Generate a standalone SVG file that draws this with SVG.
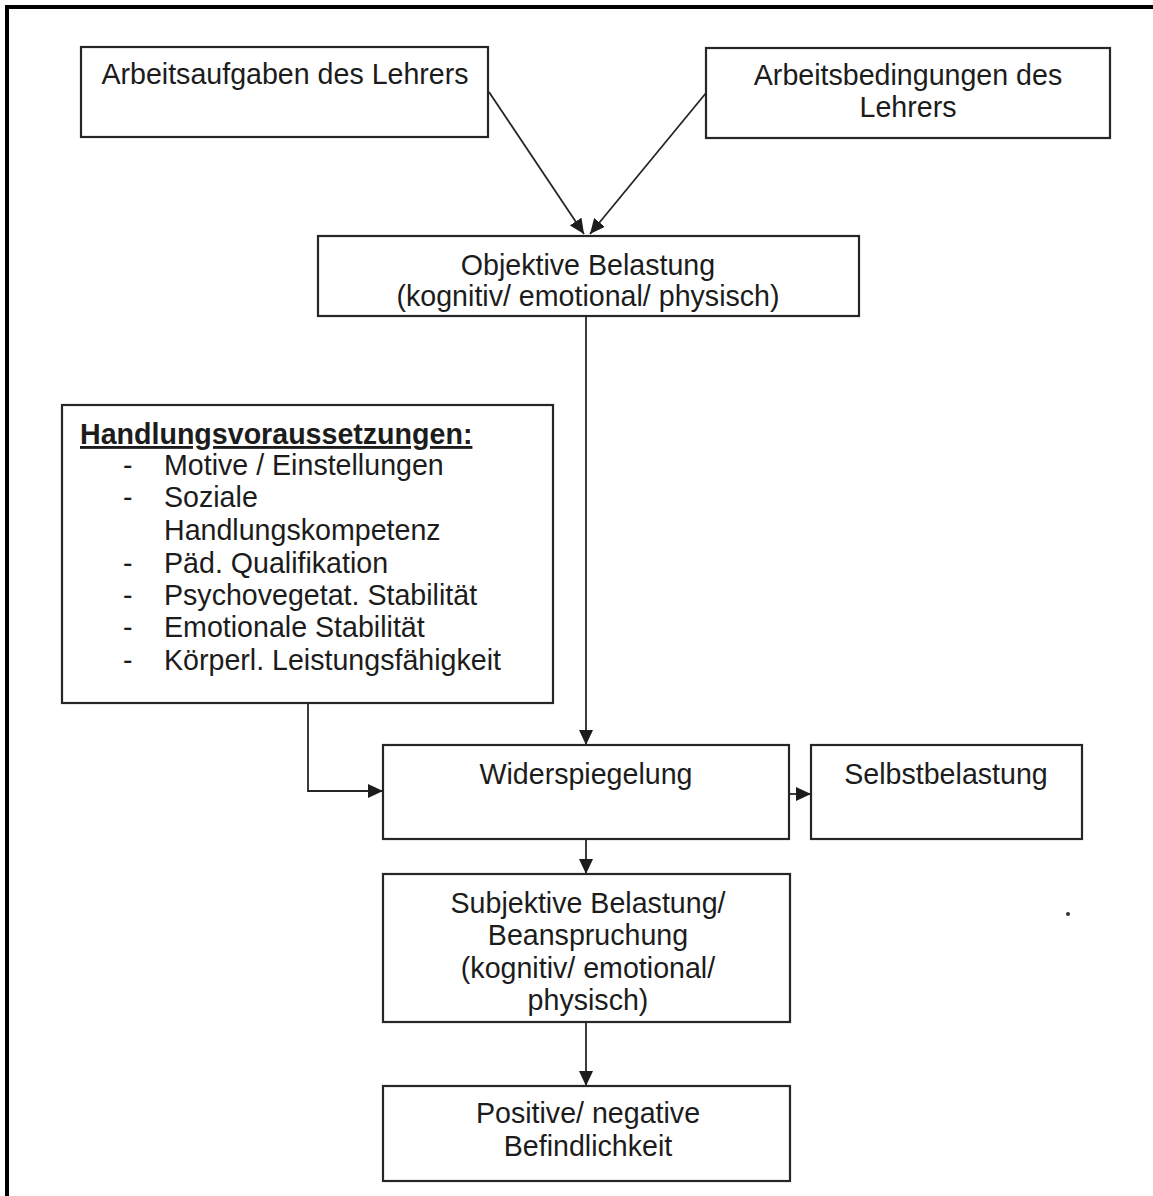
<svg xmlns="http://www.w3.org/2000/svg" width="1153" height="1196" viewBox="0 0 1153 1196">
  <style>
    .box { fill: #ffffff; stroke: #262626; stroke-width: 2.2; }
    .lbl { font-family: "Liberation Sans", Arial, sans-serif; font-size: 28.6px; fill: #1c1c1c; }
    .mid { text-anchor: middle; }
    .head { font-weight: bold; text-decoration: underline; }
    .wire { fill: none; stroke: #262626; stroke-width: 1.8; }
    .frame { fill: none; stroke: #000000; stroke-width: 4; }
  </style>
  <defs>
    <marker id="arrow" markerUnits="userSpaceOnUse" markerWidth="16" markerHeight="14" refX="15" refY="7" orient="auto">
      <path d="M0,0 L15,7 L0,14 Z" fill="#1c1c1c"/>
    </marker>
  </defs>

  <rect width="1153" height="1196" fill="#ffffff"/>

  <!-- page frame (top and left edges) -->
  <path class="frame" d="M7,1196 V7 H1153"/>

  <!-- connectors -->
  <g id="connectors">
    <line class="wire" x1="489" y1="92" x2="584" y2="234" marker-end="url(#arrow)"/>
    <line class="wire" x1="706" y1="93" x2="590" y2="234" marker-end="url(#arrow)"/>
    <line class="wire" x1="586" y1="316" x2="586" y2="745" marker-end="url(#arrow)"/>
    <polyline class="wire" points="308,703 308,791 383,791" marker-end="url(#arrow)"/>
    <line class="wire" x1="789" y1="794" x2="811" y2="794" marker-end="url(#arrow)"/>
    <line class="wire" x1="586" y1="839" x2="586" y2="874" marker-end="url(#arrow)"/>
    <line class="wire" x1="586" y1="1022" x2="586" y2="1086" marker-end="url(#arrow)"/>
  </g>

  <g id="arbeitsaufgaben">
    <rect class="box" x="81" y="47" width="407" height="90"/>
    <text class="lbl mid" x="285" y="84">Arbeitsaufgaben des Lehrers</text>
  </g>

  <g id="arbeitsbedingungen">
    <rect class="box" x="706" y="48" width="404" height="90"/>
    <text class="lbl mid" x="908" y="85">Arbeitsbedingungen des</text>
    <text class="lbl mid" x="908" y="117">Lehrers</text>
  </g>

  <g id="objektive-belastung">
    <rect class="box" x="318" y="236" width="541" height="80"/>
    <text class="lbl mid" x="588" y="275">Objektive Belastung</text>
    <text class="lbl mid" x="588" y="306">(kognitiv/ emotional/ physisch)</text>
  </g>

  <g id="handlungsvoraussetzungen">
    <rect class="box" x="62" y="405" width="491" height="298"/>
    <text class="lbl head" x="80" y="444">Handlungsvoraussetzungen:</text>
    <g class="lbl">
      <text x="123" y="475">-</text><text x="164" y="475">Motive / Einstellungen</text>
      <text x="123" y="507">-</text><text x="164" y="507">Soziale</text>
      <text x="164" y="540">Handlungskompetenz</text>
      <text x="123" y="573">-</text><text x="164" y="573">Päd. Qualifikation</text>
      <text x="123" y="605">-</text><text x="164" y="605">Psychovegetat. Stabilität</text>
      <text x="123" y="637">-</text><text x="164" y="637">Emotionale Stabilität</text>
      <text x="123" y="670">-</text><text x="164" y="670">Körperl. Leistungsfähigkeit</text>
    </g>
  </g>

  <g id="widerspiegelung">
    <rect class="box" x="383" y="745" width="406" height="94"/>
    <text class="lbl mid" x="586" y="784">Widerspiegelung</text>
  </g>

  <g id="selbstbelastung">
    <rect class="box" x="811" y="745" width="271" height="94"/>
    <text class="lbl mid" x="946" y="784">Selbstbelastung</text>
  </g>

  <g id="subjektive-belastung">
    <rect class="box" x="383" y="874" width="407" height="148"/>
    <text class="lbl mid" x="588" y="913">Subjektive Belastung/</text>
    <text class="lbl mid" x="588" y="945">Beanspruchung</text>
    <text class="lbl mid" x="588" y="978">(kognitiv/ emotional/</text>
    <text class="lbl mid" x="588" y="1010">physisch)</text>
  </g>

  <g id="befindlichkeit">
    <rect class="box" x="383" y="1086" width="407" height="95"/>
    <text class="lbl mid" x="588" y="1123">Positive/ negative</text>
    <text class="lbl mid" x="588" y="1156">Befindlichkeit</text>
  </g>

  <!-- small speck on the page -->
  <circle cx="1068" cy="914" r="2" fill="#333333"/>
</svg>
